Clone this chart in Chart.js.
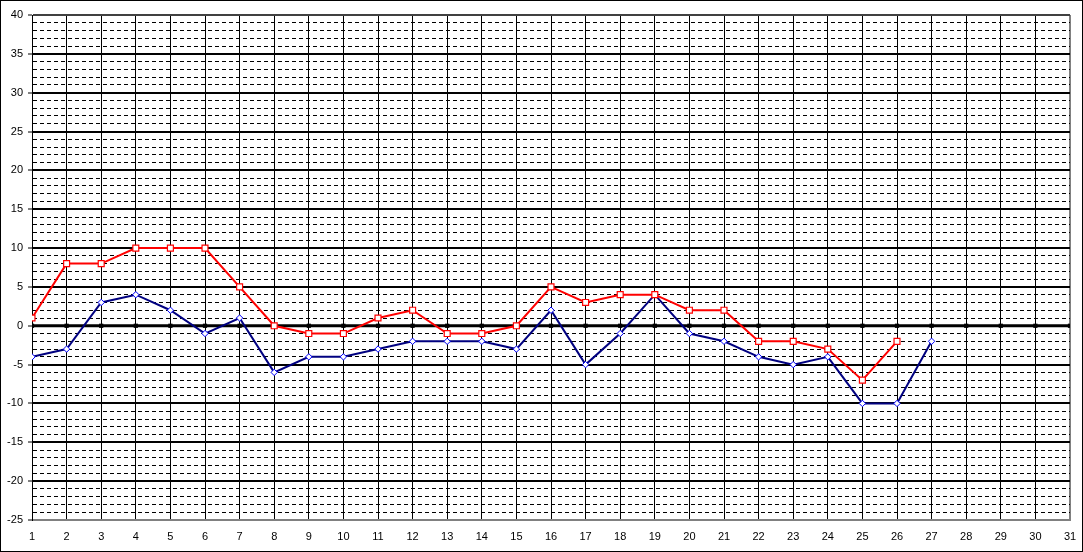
<!DOCTYPE html>
<html>
<head>
<meta charset="utf-8">
<script src="https://cdn.jsdelivr.net/npm/chart.js@4.4.1/dist/chart.umd.min.js"></script>
<style>
  html, body { margin: 0; padding: 0; background: #fff; }
  #wrap { width: 1081px; height: 550px; border: 1px solid #000; position: relative; }
</style>
</head>
<body>
<div id="wrap"><canvas id="chart"></canvas></div>
<script>
// days of the month
var days = [];
for (var d = 1; d <= 31; d++) days.push(d);

// red series (upper)
var redValues = [1, 8, 8, 10, 10, 10, 5, 0, -1, -1, 1, 2, -1, -1, 0, 5, 3, 4, 4, 2, 2, -2, -2, -3, -7, -2];
// blue series (lower)
var blueValues = [-4, -3, 3, 4, 2, -1, 1, -6, -4, -4, -3, -2, -2, -2, -3, 2, -5, -1, 4, -1, -2, -4, -5, -4, -10, -10, -2];
// zero baseline series
var zeroValues = [0, 0, 0, 0, 0, 0, 0, 0, 0, 0, 0, 0, 0, 0, 0, 0, 0, 0, 0, 0, 0, 0, 0, 0, 0, 0, 0, 0, 0, 0, 0];

var yMin = -25, yMax = 40;

function toPoints(vals) {
    return vals.map(function (v, i) { return { x: days[i], y: v }; });
}

var isMajor = function (ctx) {
    return ctx.tick && ctx.tick.value % 5 === 0;
};

var config = {
    type: 'line',
    data: {
        datasets: [{
            data: toPoints(redValues),
            borderColor: '#ff0000',
            borderWidth: 2,
            pointStyle: 'rect',
            pointRadius: 4.2,
            pointBackgroundColor: '#ffffff',
            pointBorderColor: '#ff0000',
            pointBorderWidth: 1.2,
            tension: 0
        }, {
            data: toPoints(blueValues),
            borderColor: '#000080',
            borderWidth: 2,
            pointStyle: 'rectRot',
            pointRadius: 3.2,
            pointBackgroundColor: '#ffffff',
            pointBorderColor: '#0000ff',
            pointBorderWidth: 1,
            tension: 0
        }, {
            data: toPoints(zeroValues),
            borderColor: '#000000',
            borderWidth: 3,
            pointStyle: 'rect',
            pointRadius: 3,
            pointBackgroundColor: '#000000',
            pointBorderColor: '#000000',
            pointBorderWidth: 0,
            tension: 0
        }]
    },
    options: {
        responsive: true,
        maintainAspectRatio: false,
        animation: false,
        events: [],
        layout: { padding: { left: 0, top: 14, right: 12, bottom: 0 } },
        plugins: {
            legend: { display: false },
            tooltip: { enabled: false }
        },
        scales: {
            x: {
                type: 'linear',
                min: 1,
                max: 31,
                afterFit: function (s) { s.height = 31; s.paddingRight = 0; s.paddingLeft = 0; },
                ticks: {
                    stepSize: 1,
                    autoSkip: false,
                    maxRotation: 0,
                    padding: 10,
                    color: '#000',
                    font: { family: 'Liberation Sans, Arial, sans-serif', size: 11 }
                },
                grid: {
                    color: function (ctx) { return ctx.tick && ctx.tick.value === 31 ? '#808080' : '#000'; },
                    lineWidth: function (ctx) { return ctx.tick && ctx.tick.value === 31 ? 2 : 1; },
                    drawTicks: false
                },
                border: { display: true, color: '#808080', width: 2 }
            },
            y: {
                min: yMin,
                max: yMax,
                afterFit: function (s) { s.width = 31; },
                ticks: {
                    stepSize: 1,
                    autoSkip: false,
                    maxTicksLimit: 200,
                    padding: 5,
                    color: '#000',
                    font: { family: 'Liberation Sans, Arial, sans-serif', size: 11 },
                    callback: function (v) { return v % 5 === 0 ? v : ''; }
                },
                grid: {
                    color: function (ctx) {
                        if (!ctx.tick) return '#000';
                        if (ctx.tick.value === yMin) return '#808080';
                        if (ctx.tick.value === yMax) return '#404040';
                        return '#000';
                    },
                    lineWidth: function (ctx) { return isMajor(ctx) ? 2 : 1; },
                    tickLength: 4,
                    tickColor: function (ctx) { return isMajor(ctx) ? '#000' : 'rgba(0,0,0,0)'; },
                    tickWidth: 1
                },
                border: {
                    display: true,
                    color: '#000',
                    width: 1,
                    dash: function (ctx) { return isMajor(ctx) ? [] : [4, 3]; }
                }
            }
        }
    }
};

var myChart = new Chart(document.getElementById('chart'), config);
</script>
</body>
</html>
